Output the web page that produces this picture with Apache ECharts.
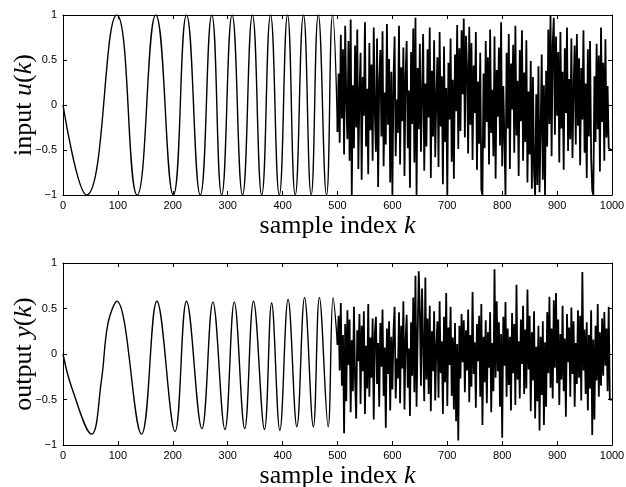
<!DOCTYPE html>
<html>
<head>
<meta charset="utf-8">
<script src="https://cdn.jsdelivr.net/npm/echarts@6/dist/echarts.min.js"></script>
<style>
    html, body { margin: 0; padding: 0; background: #fff; }
    #chart { width: 626px; height: 487px; }
</style>
</head>
<body>
<div id="chart"></div>
<script>
// x ticks
var xTicks = [0, 100, 200, 300, 400, 500, 600, 700, 800, 900, 1000];
var yTicks = [-1, -0.5, 0, 0.5, 1];

// input u(k): swept sine part, turning points
var sweepK = [0, 43, 98, 135, 169, 201, 225, 250, 271, 289, 308, 327, 345, 362, 378, 394, 409, 423, 438, 452, 465, 480, 491, 500];
var sweepU = [0, -1, 1, -1, 1, -1, 1, -1, 1, -1, 1, -1, 1, -1, 1, -1, 1, -1, 1, -1, 1, -1, 1, -0.3];

// output y(k): swept part
var sweepKy = [0, 16, 52, 70, 82, 98, 143, 171, 204, 225, 253, 273, 295, 312, 331, 347, 367, 380, 395, 410, 426, 440, 456, 467, 483, 492, 500];
var sweepY = [0, -0.37, -0.88, -0.29, 0.34, 0.58, -0.88, 0.58, -0.85, 0.58, -0.82, 0.57, -0.83, 0.57, -0.82, 0.58, -0.83, 0.56, -0.84, 0.6, -0.8, 0.62, -0.8, 0.62, -0.8, 0.62, 0.1];

// noise part, k = 502, 504, ... 1000
var noiseStart = 502;
var noiseStep = 2;
var noiseU = [
    0.35, -0.42, 0.78, -0.15, 0.62, -0.55, 0.88, 0.05, -0.38, 0.71,
    -0.62, 0.95, -1, 0.22, -0.48, 0.66, -0.25, 0.84, -0.71, 0.12,
    0.58, -0.83, 0.31, -0.12, 0.92, -0.46, 0.18, -0.77, 0.69, -0.28,
    0.45, -0.62, 0.86, -0.08, -0.52, 0.74, -0.91, 0.26, 0.61, -0.35,
    0.82, -0.68, 0.14, -0.44, 0.9, -0.22, 0.51, -0.86, 0.37, -1,
    0.28, 0.76, -0.57, 0.06, -0.31, 0.88, -0.66, 0.42, -0.18, 0.64,
    -0.79, 0.33, 0.71, -0.48, 0.16, -0.92, 0.59, -0.21, 0.85, -0.64,
    0.97, -1, 0.41, -0.27, 0.68, -0.52, 0.11, 0.79, -0.73, 0.24,
    -0.46, 0.62, -0.14, 0.86, -0.81, 0.38, -0.35, 0.72, -0.58, 0.09,
    0.53, -0.69, 0.81, -0.24, 0.32, -0.88, 0.65, -0.41, 0.19, -1,
    0.47, -0.16, 0.74, -0.63, 0.28, -0.82, 0.56, -0.07, 0.89, -0.49,
    0.63, -0.29, 0.83, 0.12, 0.96, -0.36, 0.77, 0.41, -0.54, 0.87,
    -0.22, 0.69, -0.61, 0.44, -0.09, 0.81, -0.72, 0.26, -0.43, 0.58,
    -0.94, -1, 0.35, -0.48, 0.71, -0.19, 0.53, -0.66, 0.84, -0.31,
    0.17, -0.57, 0.76, -0.82, 0.39, -0.13, 0.64, -0.45, 0.92, -0.68,
    0.21, -0.37, -1, 0.58, -0.26, 0.79, -0.71, 0.46, -0.05, 0.67,
    -0.53, 0.88, -0.34, 0.27, -0.79, 0.61, -0.18, 0.83, -0.62, 0.36,
    -0.41, 0.72, -0.86, 0.15, -0.55, 0.49, -0.93, 0.31, -0.74, -1,
    0.12, -0.89, 0.43, -0.97, -0.28, 0.56, -0.83, 0.22, -1, 0.38,
    -0.46, 0.84, -0.21, 1, -0.57, 0.68, 0.97, -0.33, 0.76, -0.12,
    0.59, -0.64, 0.81, -0.26, 0.37, -0.72, 0.63, -0.09, 0.86, -0.51,
    0.29, -0.38, 0.74, -0.59, 0.18, 0.66, -0.44, 0.79, -0.23, 0.52,
    -0.67, 0.41, -0.16, 0.83, -0.53, 0.24, -0.81, 0.62, -0.35, 0.71,
    -0.58, -0.95, -1, 0.32, -0.41, 0.68, -0.27, 0.55, -0.74, 0.86,
    -0.19, 0.47, -0.62, 0.73, -0.36, 0.21, -0.48, -0.5, -0.5, -0.5
];
var noiseY = [
    0.42, -0.18, 0.56, -0.35, 0.21, -0.87, 0.33, -0.52, 0.48, -0.12,
    0.38, -0.64, 0.15, -0.41, 0.52, -0.28, -0.71, 0.26, -0.08, 0.44,
    -0.55, 0.31, -0.19, 0.47, -0.66, 0.09, -0.38, 0.55, -0.47, 0.18,
    -0.26, 0.39, -0.72, 0.22, 0.41, -0.33, 0.12, -0.58, 0.34, -0.14,
    0.49, -0.46, 0.07, -0.81, 0.28, -0.22, 0.36, -0.62, 0.19, -0.39,
    0.25, 0.52, -0.49, -0.05, -0.27, 0.46, -0.54, 0.31, -0.16, 0.58,
    -0.61, 0.14, 0.43, -0.37, 0.06, -0.68, 0.35, -0.24, 0.62, -0.42,
    0.86, -0.58, 0.21, 0.91, 0.47, -0.35, 0.72, 0.12, -0.52, 0.84,
    -0.28, 0.39, -0.44, 0.53, -0.63, 0.25, -0.19, 0.47, -0.51, 0.08,
    0.36, -0.48, 0.58, -0.21, 0.14, -0.66, 0.41, -0.31, 0.67, -0.57,
    0.29, -0.12, 0.52, -0.46, 0.18, -0.61, 0.34, -0.74, 0.11, -0.95,
    0.31, -0.27, 0.44, -0.09, 0.37, -0.42, 0.26, -0.18, 0.49, -0.53,
    0.21, -0.36, 0.68, -0.22, 0.13, -0.59, 0.33, -0.08, 0.42, -0.47,
    0.55, -0.78, 0.19, -0.31, 0.37, -0.54, 0.24, -0.15, 0.46, -0.64,
    0.12, -0.41, 0.93, -0.26, 0.58, -0.19, 0.35, -0.58, 0.22, -0.92,
    0.41, -0.13, 0.57, -0.47, 0.28, -0.34, 0.19, -0.62, 0.45, -0.21,
    0.33, -0.56, 0.76, -0.28, 0.14, -0.49, 0.38, -0.11, 0.53, -0.44,
    0.27, -0.38, 0.71, -0.17, 0.42, -0.63, 0.24, -0.29, 0.47, -0.71,
    0.08, -0.52, 0.31, -0.84, 0.19, -0.45, 0.36, -0.78, 0.13, -0.58,
    0.46, -0.21, 0.63, -0.37, 0.28, -0.49, 0.59, -0.15, 0.67, -0.32,
    0.38, -0.56, 0.22, -0.28, 0.53, -0.41, 0.17, -0.69, 0.44, -0.09,
    0.29, -0.47, 0.51, -0.22, 0.36, -0.58, 0.12, -0.33, 0.48, -0.26,
    0.42, -0.51, 0.9, -0.18, 0.27, -0.44, 0.35, -0.62, 0.21, -0.38,
    0.48, -0.89, 0.16, -0.72, 0.31, -0.29, 0.55, -0.47, 0.24, -0.35,
    0.39, -0.24, 0.46, -0.13, 0.28, -0.41, 0.52, -0.5, -0.5, -0.5
];

function pairs(ks, vs) {
    var out = [];
    for (var i = 0; i < ks.length; i++) {
        out.push([ks[i], vs[i]]);
    }
    return out;
}

function noisePairs(first, vs) {
    var out = [first];
    for (var i = 0; i < vs.length; i++) {
        out.push([noiseStart + i * noiseStep, vs[i]]);
    }
    return out;
}

var serif = '"Liberation Serif", "DejaVu Serif", serif';
var sans = '"Liberation Sans", Arial, sans-serif';
var nameRich = {
    r: { fontFamily: serif, fontSize: 26, color: '#000' },
    i: { fontFamily: serif, fontSize: 26, fontStyle: 'italic', color: '#000' }
};

function xAxisFor(grid, top) {
    return {
        type: 'value', gridIndex: grid, min: 0, max: 1000, interval: 100,
        position: top ? 'top' : 'bottom',
        axisLine: { show: true, onZero: false, lineStyle: { color: '#000', width: 1 } },
        axisTick: { show: true, inside: true, length: 4, lineStyle: { color: '#000' } },
        axisLabel: {
            show: !top, margin: 5, color: '#000', fontFamily: sans, fontSize: 11,
            formatter: function (v) { return String(v); }
        },
        splitLine: { show: false },
        name: top ? '' : '{r|sample index }{i|k}',
        nameLocation: 'middle', nameGap: 18, nameMoveOverlap: false,
        nameTextStyle: { rich: nameRich }
    };
}

function yAxisFor(grid, right, label) {
    return {
        type: 'value', gridIndex: grid, min: -1, max: 1, interval: 0.5,
        position: right ? 'right' : 'left',
        axisLine: { show: true, onZero: false, lineStyle: { color: '#000', width: 1 } },
        axisTick: { show: true, inside: true, length: 4, lineStyle: { color: '#000' } },
        axisLabel: {
            show: !right, margin: 6, color: '#000', fontFamily: sans, fontSize: 11,
            formatter: function (v) { return String(v).replace('-', '\u2212'); }
        },
        splitLine: { show: false },
        name: right ? '' : label,
        nameLocation: 'middle', nameGap: 26, nameRotate: 90, nameMoveOverlap: false,
        nameTextStyle: { rich: nameRich }
    };
}

var lineStyle = { color: '#000', width: 1.4 };
var noiseStyle = { color: '#000', width: 1.8 };
var chart = echarts.init(document.getElementById('chart'));
chart.setOption({
    animation: false,
    backgroundColor: '#fff',
    grid: [
        { left: 63, right: 14, top: 15, height: 180, outerBoundsMode: 'none' },
        { left: 63, right: 14, top: 263, height: 182, outerBoundsMode: 'none' }
    ],
    xAxis: [xAxisFor(0, false), xAxisFor(0, true), xAxisFor(1, false), xAxisFor(1, true)],
    yAxis: [
        yAxisFor(0, false, '{r|input }{i|u}{r|(}{i|k}{r|)}'),
        yAxisFor(0, true),
        yAxisFor(1, false, '{r|output }{i|y}{r|(}{i|k}{r|)}'),
        yAxisFor(1, true)
    ],
    series: [
        { type: 'line', xAxisIndex: 0, yAxisIndex: 0, data: pairs(sweepK, sweepU), smooth: 0.5, showSymbol: false, lineStyle: lineStyle },
        { type: 'line', xAxisIndex: 0, yAxisIndex: 0, data: noisePairs([500, -0.3], noiseU), showSymbol: false, lineStyle: noiseStyle },
        { type: 'line', xAxisIndex: 2, yAxisIndex: 2, data: pairs(sweepKy, sweepY), smooth: 0.4, showSymbol: false, lineStyle: lineStyle },
        { type: 'line', xAxisIndex: 2, yAxisIndex: 2, data: noisePairs([500, 0.1], noiseY), showSymbol: false, lineStyle: noiseStyle }
    ]
});
</script>
</body>
</html>
